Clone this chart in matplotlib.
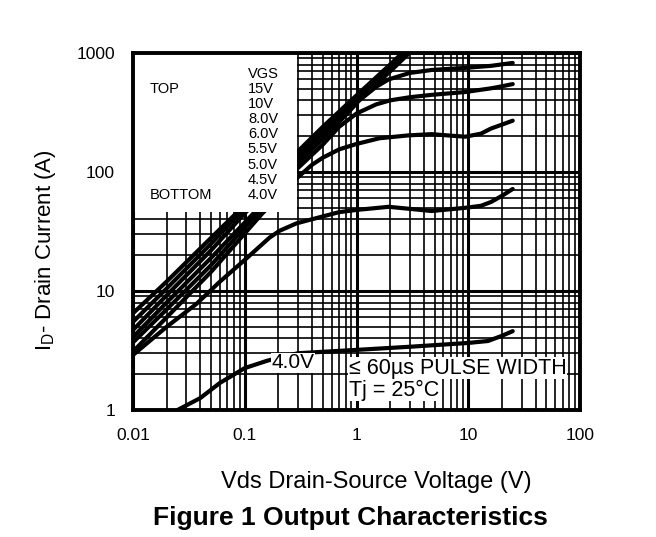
import matplotlib
matplotlib.use("Agg")
import matplotlib.pyplot as plt
from matplotlib.patches import Rectangle
from matplotlib.ticker import LogLocator, NullFormatter, FixedLocator, FixedFormatter

plt.rcParams['font.family'] = ['Liberation Sans', 'DejaVu Sans']
plt.rcParams['mathtext.default'] = 'regular'

# ---- data ----
vgs_labels = ['15V', '10V', '8.0V', '6.0V', '5.5V', '5.0V', '4.5V', '4.0V']

vds_15 = [0.01, 0.02, 0.05, 0.084, 0.15, 0.29, 0.5, 1.0, 2.0, 2.8]
id_15 = [6.5, 12, 28, 45, 78, 145, 240, 440, 800, 1080]

vds_10 = [0.01, 0.02, 0.05, 0.09, 0.15, 0.29, 0.5, 1.0, 2.0, 3.0]
id_10 = [5.5, 10.5, 25, 45, 72, 135, 225, 410, 740, 1060]

vds_8 = [0.01, 0.02, 0.05, 0.1, 0.15, 0.29, 0.5, 1.0, 2.0, 3.1]
id_8 = [4.7, 9.2, 22, 45, 66, 125, 210, 385, 700, 1040]

vds_6 = [0.01, 0.02, 0.05, 0.12, 0.29, 0.5, 0.8, 1.06, 1.5, 1.94, 3.0, 4.7, 9.4, 16, 25]
id_6 = [4.1, 8.0, 19, 45, 115, 190, 300, 400, 520, 600, 680, 720, 750, 780, 825]

vds_55 = [0.01, 0.02, 0.05, 0.13, 0.29, 0.5, 0.7, 1.0, 1.5, 2.0, 3.0, 4.7, 9.4, 16, 20, 25]
id_55 = [3.7, 7.0, 16.5, 45, 105, 170, 240, 310, 370, 400, 425, 445, 470, 505, 525, 548]

vds_5 = [0.01, 0.02, 0.05, 0.144, 0.29, 0.4, 0.5, 0.7, 1.0, 1.6, 2.9, 4.7, 7.0, 9.4, 13, 16, 20, 25]
id_5 = [3.1, 6.0, 14.5, 45, 88, 115, 132, 155, 172, 192, 203, 208, 202, 198, 210, 232, 250, 270]

vds_45 = [0.01, 0.02, 0.037, 0.06, 0.105, 0.166, 0.204, 0.29, 0.377, 0.7, 1.0, 1.94, 3.0, 4.7, 9.4, 13, 16, 20, 25]
id_45 = [2.9, 5.0, 7.8, 12, 19, 28, 32, 37, 39.5, 46, 48, 51, 49, 47, 50, 52, 56, 63, 72]

vds_4 = [0.025, 0.04, 0.06, 0.1, 0.16, 0.3, 1.0, 3.0, 10, 15, 20, 25]
id_4 = [1.0, 1.26, 1.69, 2.25, 2.6, 3.0, 3.2, 3.4, 3.66, 3.8, 4.2, 4.6]

x_ticks = [0.01, 0.1, 1, 10, 100]
x_ticklabels = ['0.01', '0.1', '1', '10', '100']
y_ticks = [1, 10, 100, 1000]
y_ticklabels = ['1', '10', '100', '1000']

curves = [(vds_15, id_15), (vds_10, id_10), (vds_8, id_8), (vds_6, id_6),
          (vds_55, id_55), (vds_5, id_5), (vds_45, id_45), (vds_4, id_4)]

# ---- figure ----
fig = plt.figure(figsize=(6.56, 5.37), dpi=100)
ax = fig.add_axes([133/656, 1-410/537, 447/656, 357/537])
ax.set_xscale('log')
ax.set_yscale('log')
ax.set_xlim(0.01, 100)
ax.set_ylim(1, 1000)

ax.xaxis.set_major_locator(FixedLocator(x_ticks))
ax.xaxis.set_major_formatter(FixedFormatter(x_ticklabels))
ax.yaxis.set_major_locator(FixedLocator(y_ticks))
ax.yaxis.set_major_formatter(FixedFormatter(y_ticklabels))
ax.xaxis.set_minor_locator(LogLocator(base=10, subs=range(2, 10)))
ax.yaxis.set_minor_locator(LogLocator(base=10, subs=range(2, 10)))
ax.xaxis.set_minor_formatter(NullFormatter())
ax.yaxis.set_minor_formatter(NullFormatter())
ax.tick_params(which='both', length=0)
ax.tick_params(axis='x', pad=13, labelsize=12.5)
ax.tick_params(axis='y', pad=13, labelsize=12.5)

ax.set_axisbelow(True)
ax.grid(which='major', color='black', lw=2.2, zorder=1)
ax.grid(which='minor', color='black', lw=1.2, zorder=1)

for vx, iy in curves:
    ax.plot(vx, iy, color='black', lw=3.0, zorder=3, solid_capstyle='round')

for s in ax.spines.values():
    s.set_linewidth(2.8)
    s.set_zorder(10)

# white legend panel
ax.add_patch(Rectangle((0, 1 - (212-53)/357), (297-133)/447, (212-53)/357,
                       transform=ax.transAxes, facecolor='white',
                       edgecolor='none', zorder=4))

fs_leg = 10.5
ax.text(0.257, 1 - (74-53)/357, 'VGS', transform=ax.transAxes, fontsize=fs_leg,
        ha='left', va='center', zorder=5)
leg_py = [89, 104, 119, 134, 149, 165, 180, 195]
for lab, py in zip(vgs_labels, leg_py):
    ax.text(0.257, 1 - (py-53)/357, lab, transform=ax.transAxes, fontsize=fs_leg,
            ha='left', va='center', zorder=5)
ax.text(0.038, 1 - (89-53)/357, 'TOP', transform=ax.transAxes, fontsize=fs_leg,
        ha='left', va='center', zorder=5)
ax.text(0.038, 1 - (195-53)/357, 'BOTTOM', transform=ax.transAxes, fontsize=fs_leg,
        ha='left', va='center', zorder=5)

ax.text(0.358, 0.132, '4.0V', transform=ax.transAxes, fontsize=15,
        ha='center', va='center', zorder=5,
        bbox=dict(facecolor='white', edgecolor='none', pad=0.5))

ax.text(0.483, 0.117, '\u2264 60\u00b5s PULSE WIDTH', transform=ax.transAxes,
        fontsize=15.5, ha='left', va='center', zorder=5,
        bbox=dict(facecolor='white', edgecolor='none', pad=0.5))
ax.text(0.483, 0.056, 'Tj = 25\u00b0C', transform=ax.transAxes,
        fontsize=15.5, ha='left', va='center', zorder=5,
        bbox=dict(facecolor='white', edgecolor='none', pad=0.5))

fig.text(46/656, 1-250/537, 'I$_D$- Drain Current (A)', rotation=90,
         ha='center', va='center', fontsize=16)
fig.text(376/656, 1-482/537, 'Vds Drain-Source Voltage (V)',
         ha='center', va='center', fontsize=17)
fig.text(350/656, 1-518/537, 'Figure 1 Output Characteristics',
         ha='center', va='center', fontsize=19, fontweight='bold')

fig.savefig('out.png', dpi=100)
